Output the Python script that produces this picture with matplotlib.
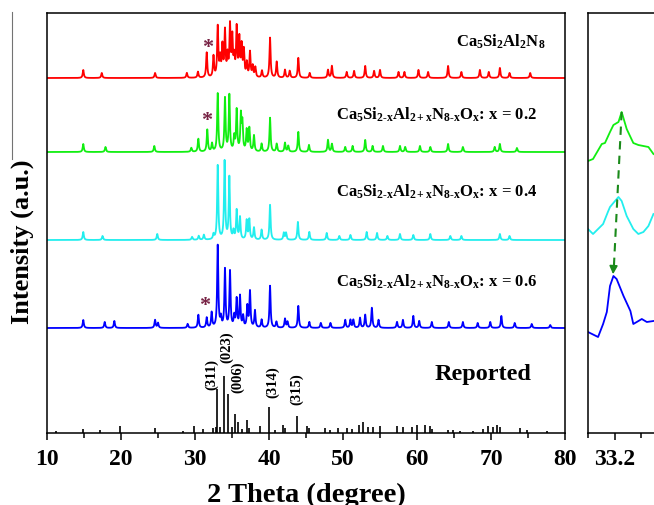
import numpy as np
import matplotlib
matplotlib.use("Agg")
import matplotlib.pyplot as plt
from matplotlib.lines import Line2D
from matplotlib.ticker import MultipleLocator, FixedLocator

plt.rcParams['font.family'] = ['Liberation Serif', 'DejaVu Serif']
plt.rcParams['font.weight'] = 'bold'
plt.rcParams['mathtext.fontset'] = 'custom'
plt.rcParams['mathtext.rm'] = 'Liberation Serif:bold'
plt.rcParams['mathtext.bf'] = 'Liberation Serif:bold'
plt.rcParams['mathtext.it'] = 'Liberation Serif:italic'

# --- peak lists (2theta, height in a.u.) ---
red_pos = [14.9, 17.4, 24.6, 28.9, 30.4, 31.58, 32.5, 33.07, 33.4, 33.7, 34.05, 34.4, 34.73,
           35.04, 35.3, 35.63, 35.99, 36.3, 36.6, 37.0, 37.43, 37.8, 38.15, 39.05, 40.14,
           41.04, 42.16, 42.8, 43.96, 45.5, 47.97, 48.5, 50.5, 51.5, 53.0, 54.2, 55.0, 57.5,
           58.3, 60.2, 61.5, 64.2, 66.0, 68.5, 69.7, 71.2, 72.5, 75.3]
red_int = [8, 5, 5, 5, 6, 25, 21, 50, 18, 30, 45, 20, 50,
           38, 18, 48, 37, 30, 26, 14, 25, 11, 10, 7, 40,
           16, 8, 7, 20, 5, 8, 12, 6, 7, 12, 7, 8, 6,
           6, 8, 6, 12, 6, 8, 6, 10, 5, 5]

green_pos = [14.9, 17.9, 24.5, 29.5, 30.45, 31.66, 32.3, 33.07, 34.05, 34.64, 35.3, 35.63,
             36.2, 36.4, 36.98, 37.34, 37.97, 39.0, 40.14, 41.04, 42.16, 42.6, 43.96, 45.4,
             47.97, 48.5, 50.3, 51.3, 53.0, 54.0, 55.4, 57.7, 58.4, 60.4, 61.8, 64.2, 66.2,
             70.5, 71.2, 73.5]
green_int = [8, 5, 6, 4, 13, 22, 8, 58, 53, 56, 14, 41,
             35, 27, 21, 23, 16, 8, 34, 8, 9, 6, 20, 7,
             12, 8, 5, 6, 12, 6, 6, 6, 5, 6, 5, 8, 5,
             5, 8, 4]

cyan_pos = [14.9, 17.5, 24.9, 29.6, 30.5, 31.2, 32.5, 33.07, 34.0, 34.64, 35.2, 35.63, 36.08,
            36.98, 37.34, 37.97, 39.0, 40.14, 42.0, 42.3, 43.9, 45.45, 47.8, 49.5, 51.0,
            53.2, 54.6, 56.0, 57.7, 59.5, 61.8, 64.5, 66.0, 71.2, 72.5]
cyan_int = [8, 4, 6, 3, 4, 5, 5, 74, 78, 62, 8, 29, 22,
            19, 20, 12, 10, 35, 7, 7, 18, 8, 7, 4, 5,
            8, 7, 4, 6, 5, 6, 4, 4, 6, 4]

blue_pos = [14.9, 17.8, 19.1, 24.6, 25.0, 29.0, 30.45, 31.58, 32.25, 33.07, 33.5, 34.05,
            34.73, 35.3, 35.63, 36.08, 36.5, 37.07, 37.43, 38.1, 39.0, 40.14, 41.0, 42.16,
            42.5, 43.96, 45.45, 47.0, 48.3, 50.3, 51.0, 51.4, 52.3, 53.0, 53.9, 54.8, 57.3,
            58.1, 59.5, 60.3, 62.0, 64.3, 66.2, 68.2, 69.9, 71.4, 73.2, 75.5, 78.0]
blue_int = [8, 6, 7, 8, 5, 4, 13, 10, 15, 82, 9, 58,
            56, 11, 28, 31, 11, 21, 36, 17, 8, 42, 6, 9,
            6, 22, 6, 5, 5, 8, 8, 8, 10, 13, 20, 8, 6,
            8, 12, 7, 6, 6, 6, 5, 6, 12, 5, 4, 3]

ref_pos = [11.2, 14.8, 17.2, 19.9, 24.6, 28.4, 29.9, 31.1, 32.5, 32.8, 33.0, 33.4, 33.9, 34.5,
           34.96, 35.45, 35.86, 36.3, 36.98, 37.3, 38.8, 40.05, 40.8, 41.85, 42.16, 43.74,
           45.2, 45.45, 47.56, 48.2, 49.3, 50.5, 51.2, 52.2, 52.7, 53.4, 54.1, 55.0, 57.3,
           58.1, 59.3, 60.0, 61.1, 61.8, 62.0, 64.2, 64.9, 65.8, 67.6, 68.9, 69.6, 70.3,
           70.8, 71.2, 73.9, 74.8, 77.6]
ref_int = [2, 4, 3, 7, 5, 2, 7, 4, 5, 6, 44, 6, 57, 39,
           6, 19, 11, 4, 13, 5, 7, 26, 3, 8, 5, 17,
           7, 5, 5, 3, 5, 5, 4, 8, 11, 6, 6, 7, 7,
           6, 6, 8, 8, 7, 4, 3, 3, 2, 2, 4, 7, 6,
           8, 6, 5, 3, 2]

hkl_labels = ['(311)', '(023)', '(006)', '(314)', '(315)']
hkl_x = [32.26, 34.3, 35.8, 40.54, 43.7]
hkl_y = [44, 71, 41, 36, 29]

# zoomed panel (2theta, intensity)
zoom_green_x = [33.100, 33.119, 33.152, 33.164, 33.183, 33.196, 33.215, 33.227, 33.246,
                33.271, 33.290, 33.328, 33.347]
zoom_green_y = [272, 274, 289, 290, 301, 308, 311, 321, 304, 290, 288, 286, 279]
zoom_cyan_x = [33.100, 33.119, 33.138, 33.157, 33.175, 33.183, 33.202, 33.215, 33.227,
               33.246, 33.271, 33.290, 33.309, 33.328, 33.347]
zoom_cyan_y = [204, 199, 204, 209, 221, 226, 232, 236, 232, 217, 204, 199, 201, 207, 219]
zoom_blue_x = [33.100, 33.138, 33.157, 33.171, 33.183, 33.196, 33.208, 33.234, 33.260,
               33.271, 33.284, 33.303, 33.322, 33.347]
zoom_blue_y = [101, 96, 109, 121, 147, 157, 154, 137, 122, 109, 111, 114, 111, 112]

offsets = [355, 281, 193, 105]
series = [(red_pos, red_int, '#ff0000'), (green_pos, green_int, '#11ee11'),
          (cyan_pos, cyan_int, '#22eeee'), (blue_pos, blue_int, '#0000ff')]
doped = r'$\mathbf{Ca_5Si_{2\text{-}x}Al_{2+x}N_{8\text{-}x}O_x}$: x = '
labels = [r'$\mathbf{Ca_5Si_2Al_2N_8}$', doped + '0.2', doped + '0.4', doped + '0.6']
label_y = [387, 314, 237, 147]
label_x = [77.3, 76.2, 76.2, 76.3]
star_xy = [(31.76, 386), (31.6, 313), (31.3, 128)]


def pattern(tt, pos, hts, fwhm=0.18):
    g = (fwhm / 2.0) ** 2
    p = np.asarray(pos)[:, None]
    h = np.asarray(hts, dtype=float)[:, None]
    return (h * g / ((tt[None, :] - p) ** 2 + g)).sum(axis=0)


fig = plt.figure(figsize=(6.54, 5.06), dpi=100)
ax = fig.add_axes([47 / 654, 72 / 506, 518 / 654, 420 / 506])
axz = fig.add_axes([588 / 654, 72 / 506, 132 / 654, 420 / 506])

tt = np.arange(10, 80.0001, 0.01)
for (pos, hts, col), off in zip(series, offsets):
    ax.plot(tt, off + pattern(tt, pos, hts), color=col, lw=1.3)

ax.vlines(ref_pos, 0, ref_int, color='black', lw=1.2)

for txt, x, y in zip(labels, label_x, label_y):
    ax.text(x, y, txt, ha='right', va='baseline', fontsize=12, fontweight='bold')
ax.text(75.5, 54, 'Reported', ha='right', va='baseline', fontsize=17.5, fontweight='bold')
for txt, x, y in zip(hkl_labels, hkl_x, hkl_y):
    ax.text(x, y, txt, rotation=90, ha='center', va='bottom', fontsize=10.5, fontweight='bold')
for x, y in star_xy:
    ax.text(x, y, '*', ha='center', va='center', fontsize=16, fontweight='bold', color='#772244')

ax.set_xlim(10, 80)
ax.set_ylim(0, 420)
ax.set_yticks([])
ax.xaxis.set_major_locator(MultipleLocator(10))
ax.xaxis.set_minor_locator(MultipleLocator(5))
ax.set_xlabel('2 Theta (degree)', fontsize=20.5, fontweight='bold', labelpad=9)
ax.set_ylabel('Intensity (a.u.)', fontsize=19, fontweight='bold')
ax.yaxis.set_label_coords(-0.025, 0.457)

# zoomed panel
axz.plot(zoom_green_x, zoom_green_y, color='#11ee11', lw=1.3)
axz.plot(zoom_cyan_x, zoom_cyan_y, color='#22eeee', lw=1.3)
axz.plot(zoom_blue_x, zoom_blue_y, color='#0000ff', lw=1.3)
arrow_col = '#1a8a1a'
axz.plot([33.227, 33.198], [321, 168], color=arrow_col, lw=1.5, ls=(0, (4, 3)))
axz.annotate('', xy=(33.194, 156), xytext=(33.197, 170),
             arrowprops=dict(arrowstyle='-|>', color=arrow_col, lw=1.2,
                             mutation_scale=12))
axz.set_xlim(33.1, 33.1 + 132 / 265)
axz.set_ylim(0, 420)
axz.set_yticks([])
axz.xaxis.set_major_locator(FixedLocator([33.2]))
axz.xaxis.set_minor_locator(FixedLocator([33.1, 33.3, 33.4, 33.5]))

for a in (ax, axz):
    for s in a.spines.values():
        s.set_linewidth(1.1)
    a.tick_params(axis='x', which='major', direction='out', length=5, width=1.1,
                  labelsize=17, pad=6)
    a.tick_params(axis='x', which='minor', direction='out', length=3.5, width=1.1)
    for lab in a.get_xticklabels():
        lab.set_fontweight('bold')

fig.add_artist(Line2D([12 / 654, 12 / 654], [1 - 13 / 506, 1 - 160 / 506],
                      color='0.45', lw=0.8))

fig.savefig('out.png', dpi=100)
